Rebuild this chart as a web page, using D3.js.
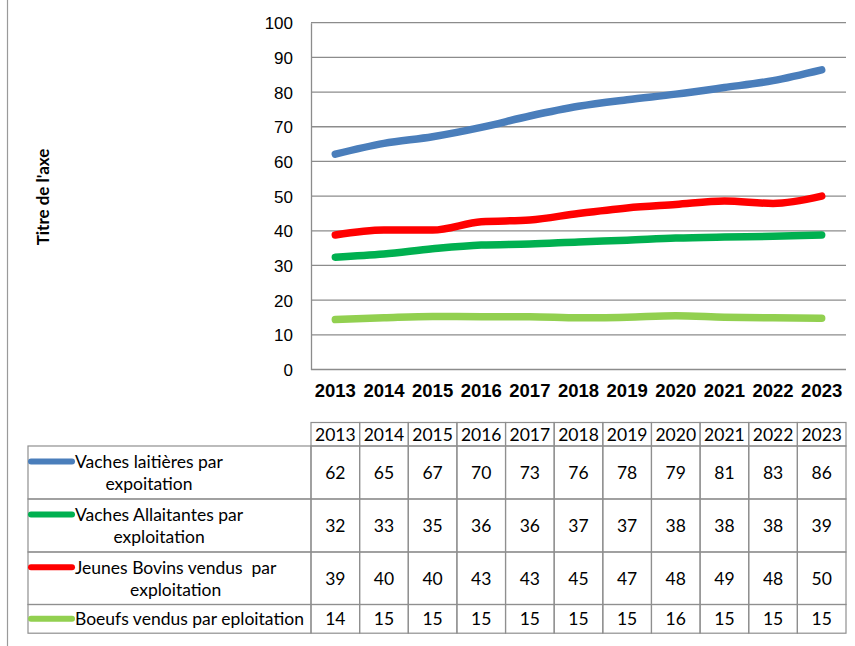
<!DOCTYPE html>
<html>
<head>
<meta charset="utf-8">
<script src="https://cdn.jsdelivr.net/npm/d3@7"></script>
<style>
  body { margin: 0; background: #fff; }
  svg { font-family: Lato, "Open Sans", sans-serif; }
  .tick text { font-size: 17px; fill: #000; }
</style>
</head>
<body>
<div id="chart"></div>
<script>
// years on the x axis and in the table header
const years = ["2013", "2014", "2015", "2016", "2017", "2018", "2019", "2020", "2021", "2022", "2023"];

// series values (the table shows them rounded)
const vachesLaitieres = [62.1, 65.2, 67.1, 69.8, 73.1, 75.9, 77.8, 79.4, 81.3, 83.3, 86.4];
const vachesAllaitantes = [32.4, 33.3, 34.8, 35.9, 36.2, 36.8, 37.3, 37.9, 38.2, 38.4, 38.8];
const jeunesBovins = [38.8, 40.2, 40.2, 42.6, 43.1, 45.0, 46.6, 47.6, 48.6, 47.9, 50.0];
const boeufs = [14.4, 14.9, 15.3, 15.2, 15.2, 14.9, 15.1, 15.5, 15.1, 14.9, 14.8];

// legend labels, split the way the table wraps them
const seriesNames = [
  ["Vaches laitières par", "expoitation"],
  ["Vaches Allaitantes par", "exploitation"],
  ["Jeunes Bovins vendus  par", "exploitation"],
  ["Boeufs vendus par eploitation"]
];
const yTicks = [0, 10, 20, 30, 40, 50, 60, 70, 80, 90, 100];
const axisTitle = "Titre de l'axe";

const series = [
  { name: seriesNames[0], values: vachesLaitieres, color: "#4a7ebb" },
  { name: seriesNames[1], values: vachesAllaitantes, color: "#00b050" },
  { name: seriesNames[2], values: jeunesBovins, color: "#ff0000" },
  { name: seriesNames[3], values: boeufs, color: "#92d050" }
];

const width = 855;
const height = 646;
const plot = { left: 311, right: 846, top: 22.7, bottom: 369.5 };
const gridColor = "#8c8c8c";
const bodyFont = "17.5px";

const svg = d3.select("#chart")
  .append("svg")
  .attr("width", width)
  .attr("height", height);

// page border on the left
svg.append("line")
  .attr("x1", 7.5).attr("x2", 7.5)
  .attr("y1", 0).attr("y2", height)
  .attr("stroke", "#9a9a9a")
  .attr("stroke-width", 1.2);

const xScale = d3.scaleBand()
  .domain(years)
  .range([plot.left, plot.right]);

const yScale = d3.scaleLinear()
  .domain([0, 100])
  .range([plot.bottom, plot.top]);

// horizontal gridlines
svg.append("g")
  .selectAll("line")
  .data(yTicks)
  .enter().append("line")
  .attr("x1", plot.left)
  .attr("x2", plot.right)
  .attr("y1", d => yScale(d))
  .attr("y2", d => yScale(d))
  .attr("stroke", gridColor)
  .attr("stroke-width", 1.3);

// y axis
const yAxis = svg.append("g")
  .attr("transform", `translate(${plot.left},0)`)
  .call(d3.axisLeft(yScale).tickValues(yTicks).tickSize(0).tickPadding(18));
yAxis.select(".domain").attr("stroke", gridColor).attr("stroke-width", 1.3);
yAxis.selectAll(".tick text").attr("dy", "0.36em");

// x axis labels
const xAxis = svg.append("g")
  .attr("transform", `translate(0,${plot.bottom})`)
  .call(d3.axisBottom(xScale).tickSize(0).tickPadding(14));
xAxis.select(".domain").remove();
xAxis.selectAll(".tick text")
  .style("font-size", "18.5px")
  .style("font-weight", "bold");

// y axis title
svg.append("text")
  .attr("transform", "translate(49,197) rotate(-90)")
  .attr("text-anchor", "middle")
  .style("font-size", "17px")
  .style("font-weight", "bold")
  .text(axisTitle);

// lines
const line = d3.line()
  .x((d, i) => xScale(years[i]) + xScale.bandwidth() / 2)
  .y(d => yScale(d))
  .curve(d3.curveMonotoneX);

svg.append("g")
  .selectAll("path")
  .data(series)
  .enter().append("path")
  .attr("d", d => line(d.values))
  .attr("fill", "none")
  .attr("stroke", d => d.color)
  .attr("stroke-width", 7.5)
  .attr("stroke-linecap", "round")
  .attr("stroke-linejoin", "round");

// data table under the chart
const tableLeft = 28;
const headerTop = 422.5;
const headerBottom = 446;
const rowHeights = [53, 53, 52.5, 28.7];
const rowTops = [];
rowHeights.reduce((acc, h) => { rowTops.push(acc); return acc + h; }, headerBottom);
const tableColor = "#8f8f8f";

const table = svg.append("g");

// header cells
table.selectAll(".hdr")
  .data(years)
  .enter().append("rect")
  .attr("x", d => xScale(d))
  .attr("y", headerTop)
  .attr("width", xScale.bandwidth())
  .attr("height", headerBottom - headerTop)
  .attr("fill", "none")
  .attr("stroke", tableColor)
  .attr("stroke-width", 1.2);

table.selectAll(".hdrText")
  .data(years)
  .enter().append("text")
  .attr("x", d => xScale(d) + xScale.bandwidth() / 2)
  .attr("y", (headerTop + headerBottom) / 2)
  .attr("dy", "0.36em")
  .attr("text-anchor", "middle")
  .style("font-size", bodyFont)
  .text(d => d);

// body rows
const rows = table.selectAll(".row")
  .data(series)
  .enter().append("g");

rows.append("rect")
  .attr("x", tableLeft)
  .attr("y", (d, i) => rowTops[i])
  .attr("width", plot.left - tableLeft)
  .attr("height", (d, i) => rowHeights[i])
  .attr("fill", "none")
  .attr("stroke", tableColor)
  .attr("stroke-width", 1.2);

rows.each(function(s, i) {
  const g = d3.select(this);
  const top = rowTops[i];
  const h = rowHeights[i];

  g.selectAll(".cell")
    .data(s.values)
    .enter().append("rect")
    .attr("x", (d, j) => xScale(years[j]))
    .attr("y", top)
    .attr("width", xScale.bandwidth())
    .attr("height", h)
    .attr("fill", "none")
    .attr("stroke", tableColor)
    .attr("stroke-width", 1.2);

  g.selectAll(".val")
    .data(s.values)
    .enter().append("text")
    .attr("x", (d, j) => xScale(years[j]) + xScale.bandwidth() / 2)
    .attr("y", top + h / 2)
    .attr("dy", "0.36em")
    .attr("text-anchor", "middle")
    .style("font-size", bodyFont)
    .text(d => Math.round(d));

  // legend key + label
  const lines = s.name;
  const firstY = lines.length > 1 ? top + h / 2 - 11 : top + h / 2;

  g.append("line")
    .attr("x1", 31).attr("x2", 72)
    .attr("y1", firstY).attr("y2", firstY)
    .attr("stroke", s.color)
    .attr("stroke-width", 6)
    .attr("stroke-linecap", "round");

  const first = g.append("text")
    .attr("x", 75)
    .attr("y", firstY)
    .attr("dy", "0.36em")
    .style("font-size", bodyFont)
    .style("white-space", "pre")
    .text(lines[0]);

  if (lines.length > 1) {
    const w = first.node().getComputedTextLength();
    g.append("text")
      .attr("x", 75 + w / 2)
      .attr("y", firstY + 22)
      .attr("dy", "0.36em")
      .attr("text-anchor", "middle")
      .style("font-size", bodyFont)
      .text(lines[1]);
  }
});
</script>
</body>
</html>
